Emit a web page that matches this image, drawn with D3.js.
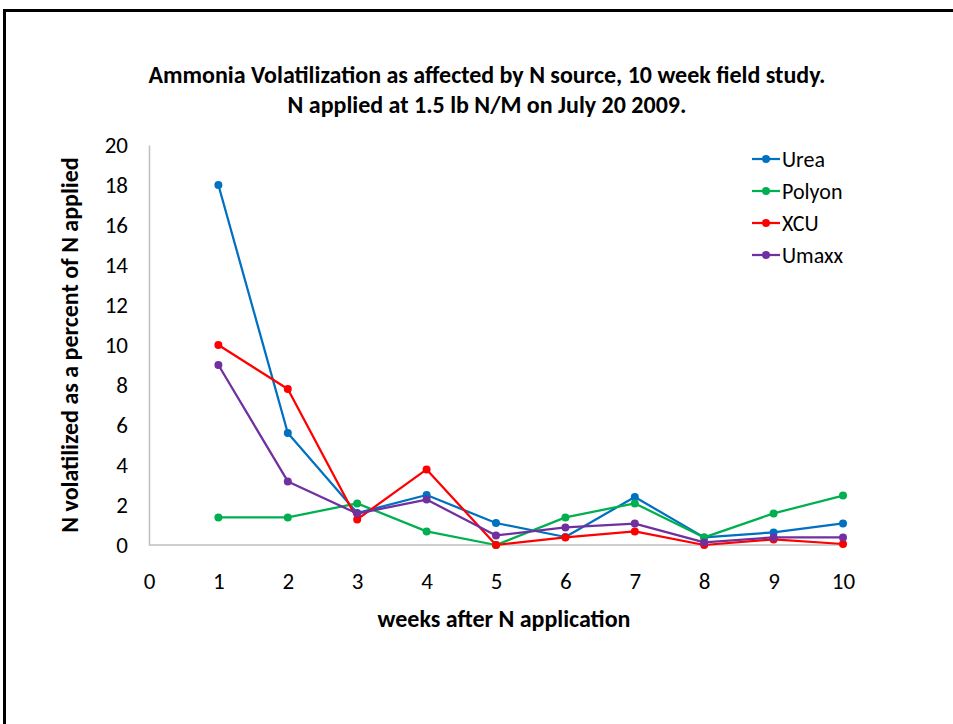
<!DOCTYPE html>
<html lang="en">
<head>
    <meta charset="UTF-8">
    <title>Ammonia Volatilization</title>
    <script src="https://cdnjs.cloudflare.com/ajax/libs/d3/7.9.0/d3.min.js"></script>
    <style>
        body { margin: 0; background: white; }
        svg text { font-family: Carlito, Calibri, Lato, sans-serif; fill: #000; }
    </style>
</head>
<body>
    <svg id="chart" width="953" height="724"></svg>

    <script>
        // data
        const weeks = [1, 2, 3, 4, 5, 6, 7, 8, 9, 10];
        const urea   = [18, 5.6, 1.6, 2.5, 1.1, 0.4, 2.4, 0.38, 0.63, 1.08];
        const polyon = [1.38, 1.38, 2.08, 0.68, 0, 1.38, 2.08, 0.38, 1.58, 2.47];
        const xcu    = [10, 7.8, 1.28, 3.78, 0, 0.38, 0.68, 0, 0.28, 0.05];
        const umaxx  = [9, 3.18, 1.57, 2.27, 0.48, 0.88, 1.07, 0.13, 0.38, 0.38];
        const seriesNames = ["Urea", "Polyon", "XCU", "Umaxx"];
        const seriesColors = ["#0070C0", "#00B050", "#FF0000", "#7030A0"];
        const xTicks = [0, 1, 2, 3, 4, 5, 6, 7, 8, 9, 10];
        const yTicks = [0, 2, 4, 6, 8, 10, 12, 14, 16, 18, 20];

        const series = [urea, polyon, xcu, umaxx].map((vals, i) => ({
            name: seriesNames[i],
            color: seriesColors[i],
            points: vals.map((v, j) => ({ week: weeks[j], value: v }))
        }));

        const svg = d3.select("#chart");

        // outer frame (runs off the right and bottom edges)
        svg.append("rect")
            .attr("x", 4.5).attr("y", 10.5)
            .attr("width", 1000).attr("height", 800)
            .attr("fill", "none")
            .attr("stroke", "#000")
            .attr("stroke-width", 3);

        const plot = { left: 149, right: 843, top: 145, bottom: 545 };

        const x = d3.scaleLinear().domain([0, 10]).range([plot.left, plot.right]);
        const y = d3.scaleLinear().domain([0, 20]).range([plot.bottom, plot.top]);

        // title
        const title = svg.append("text")
            .attr("text-anchor", "middle")
            .attr("font-weight", "bold")
            .attr("font-size", 24);
        title.append("tspan").attr("x", 487).attr("y", 83)
            .text("Ammonia Volatilization as affected by N source, 10 week field study.");
        title.append("tspan").attr("x", 487).attr("y", 113)
            .text("N applied at 1.5 lb N/M on July 20 2009.");

        // y axis (line only, no ticks)
        const yAxis = svg.append("g")
            .attr("transform", `translate(${plot.left},0)`)
            .call(d3.axisLeft(y).tickValues(yTicks).tickSize(0).tickPadding(21));
        yAxis.select(".domain").attr("stroke", "#BFBFBF").attr("stroke-width", 1.5);
        yAxis.selectAll("text").attr("font-size", 23).style("font-family", null);

        // x axis: baseline at y=0, labels further down
        svg.append("line")
            .attr("x1", plot.left).attr("x2", plot.right)
            .attr("y1", y(0)).attr("y2", y(0))
            .attr("stroke", "#BFBFBF").attr("stroke-width", 1.5);
        const xAxis = svg.append("g")
            .attr("transform", `translate(0,${y(0)})`)
            .call(d3.axisBottom(x).tickValues(xTicks).tickSize(0).tickPadding(28));
        xAxis.select(".domain").remove();
        xAxis.selectAll("text").attr("font-size", 23).style("font-family", null);

        // axis titles
        svg.append("text")
            .attr("x", (plot.left + plot.right) / 2 + 8).attr("y", 627)
            .attr("text-anchor", "middle")
            .attr("font-weight", "bold").attr("font-size", 24)
            .text("weeks after N application");

        svg.append("text")
            .attr("transform", `translate(78,${(plot.top + plot.bottom) / 2}) rotate(-90)`)
            .attr("text-anchor", "middle")
            .attr("font-weight", "bold").attr("font-size", 24)
            .text("N volatilized as a percent of N applied");

        // lines and markers
        const line = d3.line().x(d => x(d.week)).y(d => y(d.value));

        const groups = svg.selectAll(".series")
            .data(series)
            .enter().append("g")
            .attr("class", "series");

        groups.append("path")
            .attr("d", d => line(d.points))
            .attr("fill", "none")
            .attr("stroke", d => d.color)
            .attr("stroke-width", 2.25)
            .attr("stroke-linejoin", "round");

        groups.selectAll("circle")
            .data(d => d.points.map(p => ({ ...p, color: d.color })))
            .enter().append("circle")
            .attr("cx", d => x(d.week))
            .attr("cy", d => y(d.value))
            .attr("r", 4)
            .attr("fill", d => d.color);

        // legend
        const legend = svg.selectAll(".legend")
            .data(series)
            .enter().append("g")
            .attr("class", "legend")
            .attr("transform", (d, i) => `translate(752,${159 + i * 32})`);

        legend.append("line")
            .attr("x1", 0).attr("x2", 28)
            .attr("stroke", d => d.color).attr("stroke-width", 2.25);
        legend.append("circle")
            .attr("cx", 14).attr("r", 4)
            .attr("fill", d => d.color);
        legend.append("text")
            .attr("x", 30).attr("dy", "0.35em")
            .attr("font-size", 22)
            .text(d => d.name);
    </script>
</body>
</html>
